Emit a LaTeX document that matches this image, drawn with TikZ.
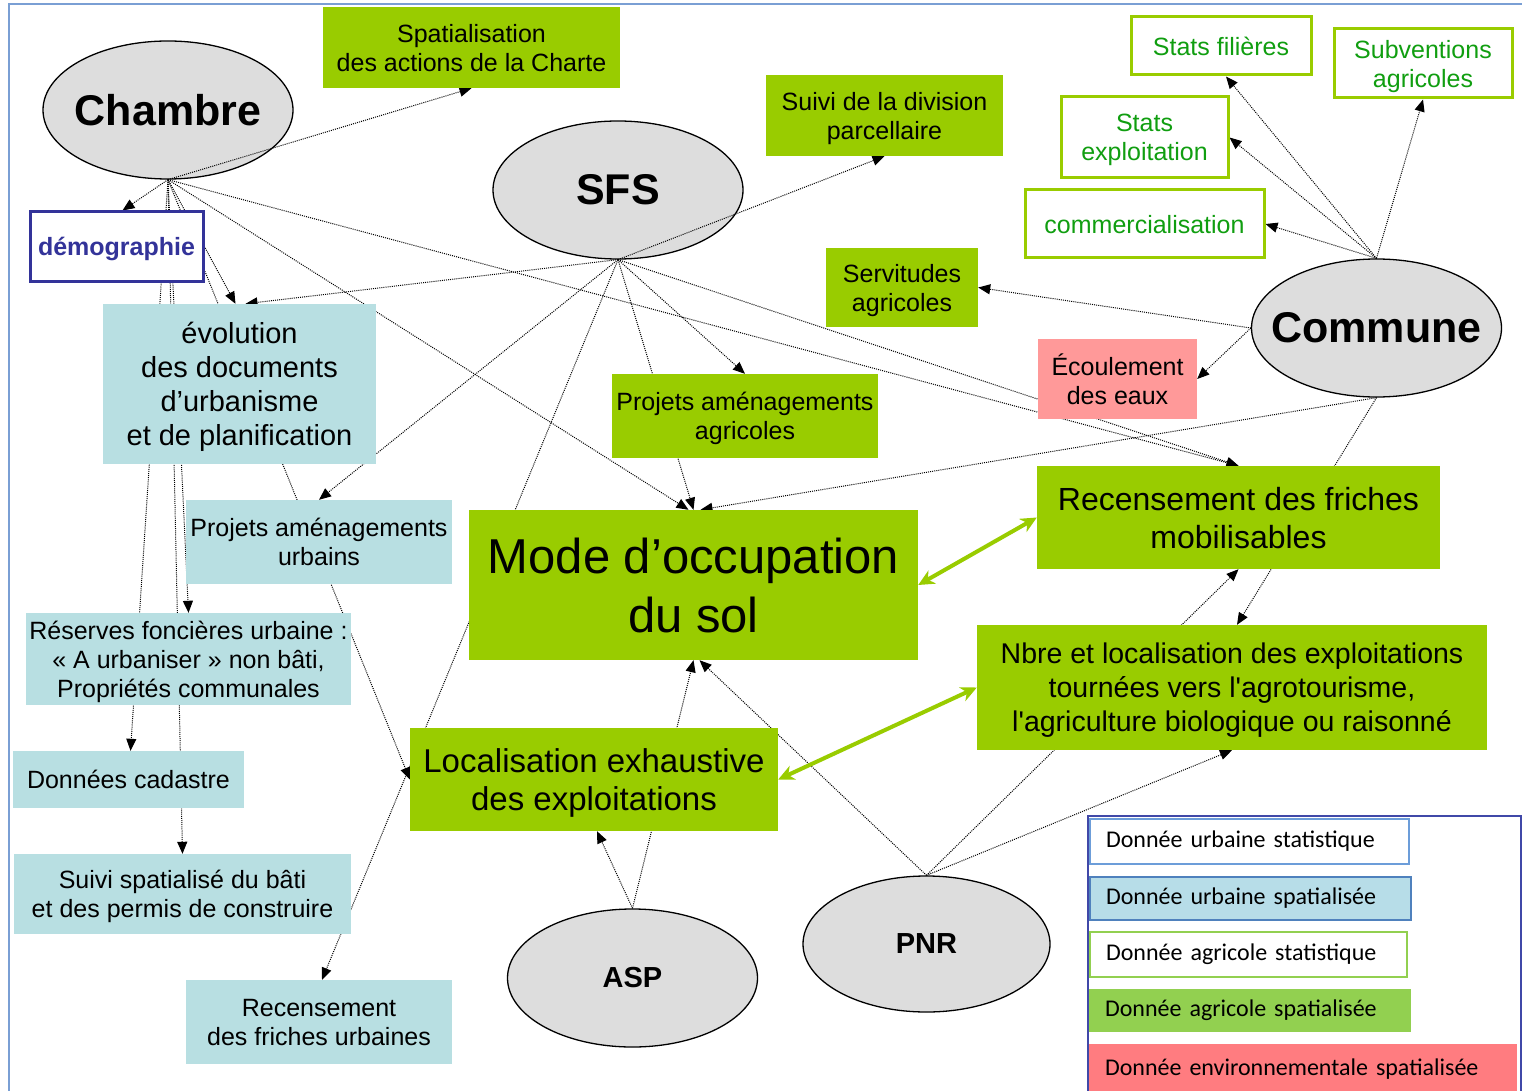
\documentclass[tikz,border=0pt]{standalone}
\usepackage{fontspec}
\setmainfont{Liberation Sans}[Ligatures=TeXOff]
\newfontfamily\legfont{Carlito}
\usetikzlibrary{arrows.meta,shapes.geometric,calc}
\definecolor{agri}{HTML}{99CC00}
\definecolor{urb}{HTML}{B8DFE2}
\definecolor{envi}{HTML}{FF9999}
\definecolor{ellc}{HTML}{DDDDDD}
\definecolor{gtext}{HTML}{109E10}
\definecolor{democ}{HTML}{333399}
\definecolor{framec}{HTML}{7A9FD4}
\definecolor{legframe}{HTML}{4048A8}
\definecolor{lblue}{HTML}{6C9DD9}
\definecolor{lbluedk}{HTML}{4F81BD}
\definecolor{lurb}{HTML}{B7DDE8}
\definecolor{lagri}{HTML}{92D050}
\definecolor{lenv}{HTML}{FF7C80}
\pgfdeclarelayer{back}
\pgfdeclarelayer{mid}
\pgfsetlayers{back,mid,main}
\begin{document}
\begin{tikzpicture}[x=1pt,y=-1pt,
 box/.style={rectangle,inner sep=0pt,align=center,text depth=0pt,font=\fontsize{25}{29}\selectfont},
 agribox/.style={box,fill=agri},
 urbbox/.style={box,fill=urb},
 statbox/.style={box,draw=agri,line width=3pt,fill=white,text=gtext},
 actor/.style={ellipse,draw=black,line width=1.3pt,fill=ellc,inner xsep=-30pt,inner ysep=-10pt,minimum width=250pt,minimum height=138pt,font=\bfseries\fontsize{43}{50}\selectfont},
 link/.style={black,line width=1pt,dash pattern=on 1pt off 1.1pt,-{Triangle[length=12pt,width=10pt]}},
 twoway/.style={agri,line width=4pt,{Stealth[length=16pt,width=15pt,inset=5pt]}-{Stealth[length=16pt,width=15pt,inset=5pt]}},
 legitem/.style={rectangle,inner ysep=0pt,inner xsep=16pt,align=left,font=\legfont\fontsize{24}{28}\selectfont},
]
\useasboundingbox (0,0) rectangle (1522,1091);
\clip (0,0) rectangle (1522,1091);
\draw[framec,line width=2pt] (9,4) rectangle (1540,1110);

% actors
\begin{pgfonlayer}{back}
\node[actor] (chambre) at (168,110) {Chambre};
\node[actor] (sfs) at (618,190) {SFS};
\node[actor] (commune) at (1376.5,328) {Commune};
\node[actor,font=\bfseries\fontsize{29}{35}\selectfont] (asp) at (632.5,978) {ASP};
\node[actor,font=\bfseries\fontsize{29}{35}\selectfont,minimum width=247pt,minimum height=136pt] (pnr) at (926.5,944) {PNR};
\end{pgfonlayer}

% boxes
\node[agribox,minimum width=297pt,minimum height=81pt] (spat) at (471.5,47.5) {Spatialisation\\des actions de la Charte};
\node[agribox,minimum width=237pt,minimum height=81pt] (sdiv) at (884.5,115.5) {Suivi de la division\\parcellaire};
\node[statbox,minimum width=180pt,minimum height=58pt] (sfil) at (1221,46) {Stats filières};
\node[statbox,minimum width=178pt,minimum height=69pt] (subv) at (1423,63.5) {Subventions\\agricoles};
\node[statbox,minimum width=167pt,minimum height=81pt] (sexp) at (1144.5,137.5) {Stats\\exploitation};
\node[statbox,minimum width=239pt,minimum height=68pt] (comm) at (1144.5,224) {commercialisation};
\node[agribox,minimum width=152pt,minimum height=79pt] (serv) at (902,287.5) {Servitudes\\agricoles};
\node[box,fill=envi,minimum width=159pt,minimum height=80pt] (ecou) at (1117.5,379) {Écoulement\\des eaux};
\node[box,draw=democ,line width=3pt,fill=white,text=democ,font=\bfseries\fontsize{25}{29}\selectfont,minimum width=173pt,minimum height=69pt] (demo) at (116.5,246.5) {démographie};
\node[urbbox,font=\fontsize{29}{34}\selectfont,minimum width=273pt,minimum height=160pt] (evol) at (239.5,384) {évolution\\des documents\\d’urbanisme\\et de planification};
\node[agribox,minimum width=266pt,minimum height=84pt] (pagr) at (745,416) {Projets aménagements\\agricoles};
\node[agribox,font=\fontsize{32}{38}\selectfont,minimum width=403pt,minimum height=103pt] (recmob) at (1238.5,517.5) {Recensement des friches\\mobilisables};
\node[agribox,font=\fontsize{49}{59}\selectfont,minimum width=449pt,minimum height=150pt] (mode) at (693.5,585) {Mode d’occupation\\du sol};
\node[urbbox,minimum width=266pt,minimum height=84pt] (purb) at (319,542) {Projets aménagements\\urbains};
\node[urbbox,minimum width=325pt,minimum height=92pt] (res) at (188.5,659) {Réserves foncières urbaine :\\« A urbaniser » non bâti,\\Propriétés communales};
\node[agribox,font=\fontsize{28.5}{34}\selectfont,minimum width=510pt,minimum height=125pt] (nbre) at (1232,687.5) {Nbre et localisation des exploitations\\tournées vers l'agrotourisme,\\l'agriculture biologique ou raisonné};
\node[urbbox,minimum width=231pt,minimum height=57pt] (cad) at (128.5,779.5) {Données cadastre};
\node[agribox,font=\fontsize{33}{38}\selectfont,minimum width=368pt,minimum height=103pt] (loc) at (594,779.5) {Localisation exhaustive\\des exploitations};
\node[urbbox,minimum width=337pt,minimum height=80pt] (suivi) at (182.5,894) {Suivi spatialisé du bâti\\et des permis de construire};
\node[urbbox,minimum width=266pt,minimum height=84pt] (rfu) at (319,1022) {Recensement\\des friches urbaines};

% dotted links
\begin{pgfonlayer}{mid}
\draw[link] (chambre.south) -- (spat.south);
\draw[link] (chambre.south) -- ([xshift=6pt]demo.north);
\draw[link] (chambre.south) -- ([xshift=-4pt]evol.north);
\draw[link] (chambre.south) -- (loc.west);
\draw[link] (chambre.south) -- (res.north);
\draw[link] (chambre.south) -- ([xshift=2pt]cad.north);
\draw[link] (chambre.south) -- (suivi.north);
\draw[link] (chambre.south) -- ([xshift=-5pt]mode.north);
\draw[link] (chambre.south) -- (recmob.north);

\draw[link] (sfs.south) -- (sdiv.south);
\draw[link] (sfs.south) -- ([xshift=6pt]evol.north);
\draw[link] (sfs.south) -- (purb.north);
\draw[link] (sfs.south) -- ([xshift=3pt]rfu.north);
\draw[link] (sfs.south) -- (pagr.north);
\draw[link] (sfs.south) -- (mode.north);
\draw[link] (sfs.south) -- (recmob.north);

\draw[link] (commune.north) -- ([xshift=5pt]sfil.south);
\draw[link] (commune.north) -- (sexp.east);
\draw[link] (commune.north) -- (comm.east);
\draw[link] (commune.north) -- (subv.south);
\draw[link] (commune.west) -- (serv.east);
\draw[link] (commune.west) -- (ecou.east);
\draw[link] (commune.south) -- ([xshift=7pt]mode.north);
\draw[link] (commune.south) -- ([xshift=5pt]nbre.north);

\draw[link] (pnr.north) -- (nbre.south);
\draw[link] (pnr.north) -- (recmob.south);
\draw[link] (pnr.north) -- ([xshift=6pt]mode.south);

\draw[link] (asp.north) -- ([xshift=3pt]loc.south);
\draw[link] (asp.north) -- (mode.south);
\end{pgfonlayer}

% two-way green arrows
\draw[twoway] (mode.east) -- (recmob.west);
\draw[twoway] (loc.east) -- (nbre.west);

% legend
\node[draw=legframe,line width=2pt,fill=white,minimum width=433pt,minimum height=290pt,anchor=north west,inner sep=0pt] (legend) at (1087,815) {};
\node[legitem,draw=lblue,line width=1.5pt,text width=287pt,minimum height=45pt] (l1) at (1249.5,841.5) {Donnée urbaine statistique};
\node[legitem,draw=lbluedk,fill=lurb,line width=1.5pt,text width=289pt,minimum height=43pt] (l2) at (1250.5,898.5) {Donnée urbaine spatialisée};
\node[legitem,draw=lagri,line width=1.5pt,text width=285pt,minimum height=45pt] (l3) at (1248.5,954.5) {Donnée agricole statistique};
\node[legitem,fill=lagri,text width=290pt,minimum height=43pt] (l4) at (1250,1010.5) {Donnée agricole spatialisée};
\node[legitem,fill=lenv,text width=396pt,minimum height=51pt] (l5) at (1303,1069.5) {Donnée environnementale spatialisée};
\end{tikzpicture}
\end{document}
